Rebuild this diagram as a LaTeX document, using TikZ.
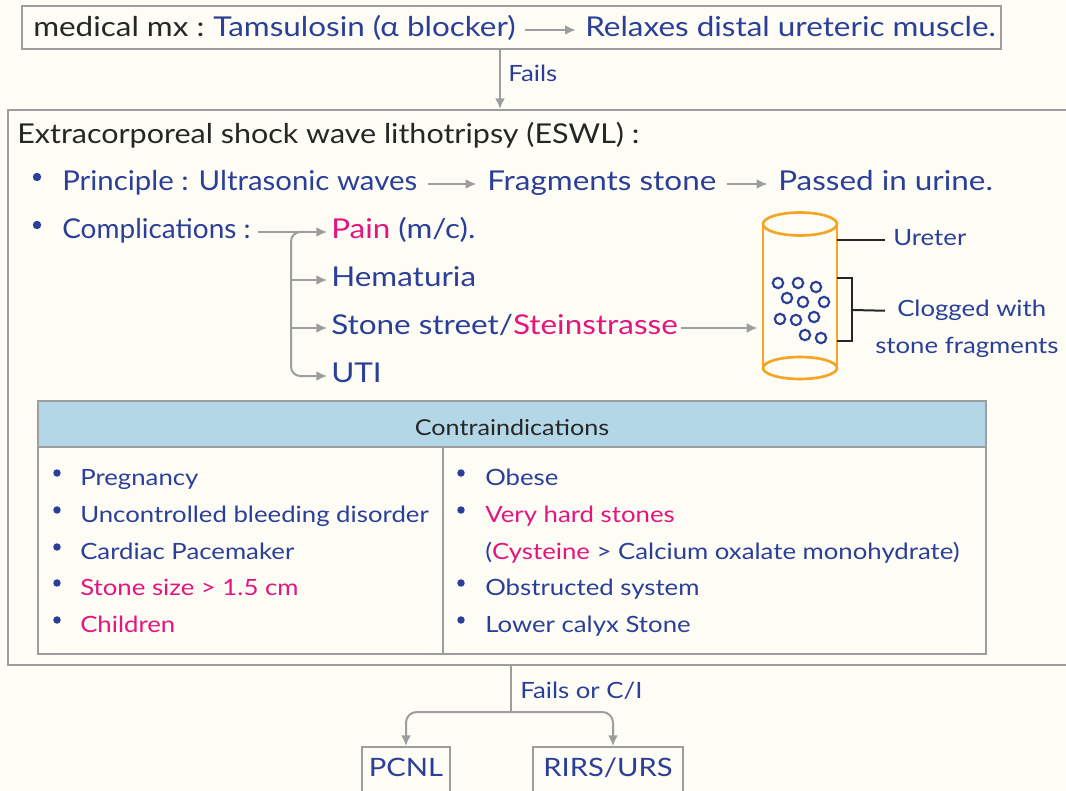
\documentclass[tikz,border=0pt]{standalone}
\usepackage{fontspec}
\setmainfont{Lato}[FakeStretch=1.15]
\usetikzlibrary{arrows.meta,fit,calc}
\definecolor{ink}{HTML}{2B3F98}
\definecolor{hot}{HTML}{E5157F}
\definecolor{rule}{HTML}{9D9D9D}
\definecolor{paper}{HTML}{FDFDF6}
\definecolor{amber}{HTML}{F5A524}
\definecolor{headfill}{HTML}{B3D7E7}
\definecolor{dark}{HTML}{262626}

\begin{document}
\begin{tikzpicture}[x=0.75pt,y=-0.75pt,
  frame/.style={draw=rule, line width=1.5pt, inner sep=0pt},
  big/.style={anchor=west, inner sep=0pt, text height=10.4pt, text depth=0pt,
    font=\fontsize{20.5}{24}\selectfont, text=ink},
  small/.style={anchor=west, inner sep=0pt, text height=8.6pt, text depth=0pt,
    font=\fontsize{16.8}{20}\selectfont, text=ink},
  boxtext/.style={inner sep=0pt, text height=9.7pt, text depth=0pt,
    font=\fontsize{19}{22}\selectfont, text=ink},
  arr/.style={draw=rule, line width=1.5pt, -{Latex[length=8pt,width=7.5pt]}},
  plain/.style={draw=rule, line width=1.5pt},
  dot/.style={circle, fill=ink, inner sep=0pt, minimum size=6.3pt},
  grain/.style={circle, draw=ink, line width=1.6pt, inner sep=0pt, minimum size=7.8pt},
  tick/.style={draw=dark, line width=1.5pt}
]
\useasboundingbox (0,0) rectangle (1066,791);
\fill[paper] (0,0) rectangle (1066,791);

% ---- medical management ----
\node[frame, fit={(22,6) (1001,49)}] (topbox) {};
\node[big, text=dark] (mx) at (33,30) {medical mx :};
\node[big] (tam) at (213,30) {Tamsulosin (α blocker)};
\node[big] (relax) at (585,30) {Relaxes distal ureteric muscle.};
\draw[arr, shorten <=7pt, shorten >=7pt] (tam.east) -- (relax.west);

% ---- ESWL panel ----
\node[frame, fit={(8,110) (1075,665)}] (eswl) {};
\coordinate (fx) at (500,0);
\draw[arr] (topbox.south -| fx) -- (eswl.north -| fx);
\node[small] (fails) at (508,76) {Fails};

\node[big, text=dark] (title) at (17,137)
  {\scalebox{0.97}[1]{Extracorporeal shock wave lithotripsy (ESWL) :}};

\node[dot] (b1) at (37,177) {};
\node[dot] (b2) at (37,225) {};
\node[big] (prin) at (62,184) {\scalebox{0.935}[1]{Principle : Ultrasonic waves}};
\node[big] (frag) at (487,184) {Fragments stone};
\node[big] (pass) at (778,184) {Passed in urine.};
\draw[arr, shorten <=8pt, shorten >=8pt] (prin.east) -- (frag.west);
\draw[arr, shorten <=8pt, shorten >=8pt] (frag.east) -- (pass.west);

\node[big] (comp) at (62,232) {\scalebox{0.89}[1]{Complications :}};
\node[big] (pain) at (331,232) {\textcolor{hot}{Pain} (m/c).};
\node[big] (hema) at (331,280) {Hematuria};
\node[big] (street) at (331,328) {Stone street/\textcolor{hot}{Steinstrasse}};
\node[big] (uti) at (331,376) {UTI};

\coordinate (fork) at (291,0);
\draw[arr, shorten <=5pt, shorten >=3pt] (comp.east) -- (pain.west);
\draw[arr, rounded corners=7pt, shorten >=3pt]
  ($(pain.west -| fork)+(14,0)$) -| (fork |- hema.west) |- (uti.west);
\draw[arr, shorten >=3pt] (fork |- hema.west) -- (hema.west);
\draw[arr, shorten >=3pt] (fork |- street.west) -- (street.west);

% ---- ureter sketch ----
\node[inner sep=0pt, fit={(763,212) (837,380)}] (pipe) {};
\draw[arr, shorten <=2pt, shorten >=4pt] (street.east) -- (pipe.west |- street.west);
\draw[amber, line width=2pt] (763,224) -- (763,368) (837,224) -- (837,368);
\draw[amber, line width=2pt] (800,224) ellipse [x radius=37, y radius=11.5];
\draw[amber, line width=2pt] (800,368) ellipse [x radius=37, y radius=11];

\foreach \gx/\gy [count=\k] in {778/283,798/283,816/287,787/298,803/302,824/302,
                                780/319,796/320,814/317,805/335,821/338}
  \node[grain] (g\k) at (\gx,\gy) {};

\node[small] (ureter) at (893,240) {Ureter};
\draw[tick, shorten >=6pt] (pipe.east |- ureter.west) -- (ureter.west);

\node[small] (clog) at (897,311) {Clogged with};
\node[small] (frags) at (875,348) {stone fragments};
\coordinate (brk) at (852,310);
\draw[tick] (pipe.east |- 0,278) -| (brk |- 0,341) -- (pipe.east |- 0,341);
\draw[tick, shorten >=9pt] (brk) -- (clog.west);

% ---- contraindications table ----
\node[frame, fill=headfill, fit={(38,401) (986,447)}] (head) {};
\node[inner sep=0pt, text height=8.3pt, text depth=0pt, font=\fontsize{16.4}{20}\selectfont,
  text=dark] (headtxt) at (512,430) {Contraindications};
\node[frame, fit={(38,447) (443,654)}] (lcol) {};
\node[frame, fit={(443,447) (986,654)}] (rcol) {};

\foreach \ry [count=\k] in {480,517,554,590,627}
  \node[dot, minimum size=5.6pt] (lb\k) at (57,\ry-7) {};
\node[small] (l1) at (80,480) {Pregnancy};
\node[small] (l2) at (80,517) {Uncontrolled bleeding disorder};
\node[small] (l3) at (80,554) {Cardiac Pacemaker};
\node[small, text=hot] (l4) at (80,590) {Stone size > 1.5 cm};
\node[small, text=hot] (l5) at (80,627) {Children};

\foreach \ry [count=\k] in {480,517,590,627}
  \node[dot, minimum size=5.6pt] (rb\k) at (461,\ry-7) {};
\node[small] (r1) at (485,480) {Obese};
\node[small, text=hot] (r2) at (485,517) {Very hard stones};
\node[small] (r3) at (485,554) {(\textcolor{hot}{Cysteine} > Calcium oxalate monohydrate)};
\node[small] (r4) at (485,590) {Obstructed system};
\node[small] (r5) at (485,627) {Lower calyx Stone};

% ---- next steps ----
\node[frame, fit={(362,747) (450,796)}] (pcnl) {};
\node[frame, fit={(533,747) (683,796)}] (rirs) {};
\node[boxtext] (pcnltxt) at (406,770) {PCNL};
\node[boxtext] (rirstxt) at (608,770) {RIRS/URS};

\coordinate (split) at (511,712);
\draw[plain] (eswl.south -| split) -- (split);
\draw[arr, rounded corners=8pt] (split) -| (pcnl.north);
\draw[arr, rounded corners=8pt] (split) -| ($(rirs.north)+(5,0)$);
\node[small] (foc) at (520,693) {Fails or C/I};
\end{tikzpicture}
\end{document}
